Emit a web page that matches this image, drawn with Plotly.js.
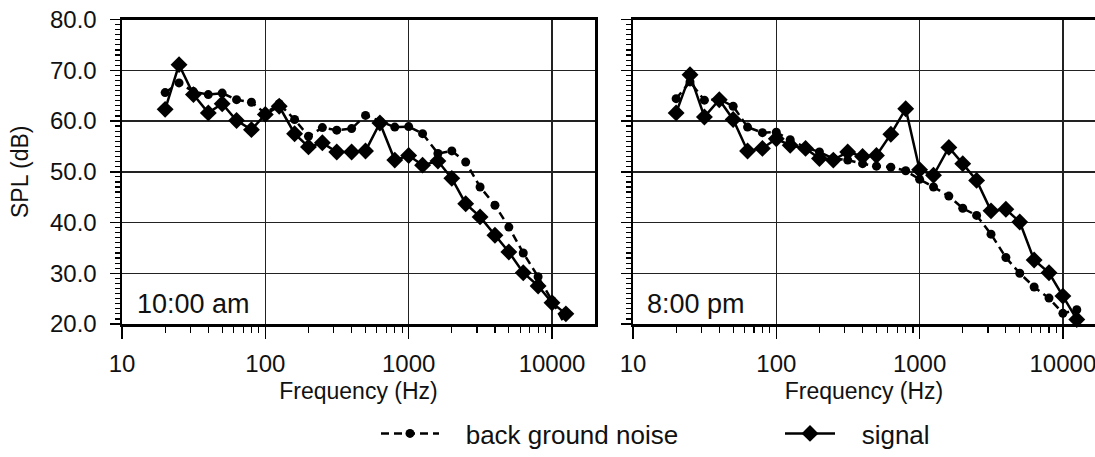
<!DOCTYPE html>
<html>
<head>
<meta charset="utf-8">
<script src="https://cdn.plot.ly/plotly-3.0.1.min.js"></script>
<style>html,body{margin:0;padding:0;background:#fff;}#chart{width:1095px;height:457px;}</style>
</head>
<body>
<div id="chart"></div>
<script>
// 1/3-octave band centre frequencies (Hz)
const freq = [20,25,31.5,40,50,63,80,100,125,160,200,250,315,400,500,630,800,1000,1250,1600,2000,2500,3150,4000,5000,6300,8000,10000,12500];

// 10:00 am panel (dB)
const noiseAm  = [65.6,67.5,65.8,65.2,65.5,64.2,63.7,61.5,63.4,60.3,57.0,58.7,58.2,58.5,61.1,59.9,58.8,58.9,57.5,53.6,54.1,51.9,47.0,43.4,39.1,34.0,29.3,24.6,19.5];
const signalAm = [62.3,71.1,65.2,61.6,63.4,60.1,58.3,61.3,62.9,57.5,54.9,55.7,53.9,53.9,54.1,59.6,52.3,53.2,51.3,52.1,48.7,43.7,41.1,37.5,34.2,30.1,27.5,24.2,22.0];

// 8:00 pm panel (dB)
const noisePm  = [64.4,67.7,64.1,64.3,62.9,58.8,57.7,57.8,56.3,54.8,53.9,52.6,52.3,51.6,51.1,50.9,50.2,48.5,47.0,45.2,42.8,41.4,37.7,33.1,30.0,27.3,25.1,22.1,22.8];
const signalPm = [61.6,69.1,60.8,64.2,60.3,54.1,54.6,56.5,55.2,54.6,52.6,52.3,53.9,53.0,53.2,57.4,62.4,50.4,49.3,54.8,51.6,48.3,42.3,42.6,40.1,32.6,30.1,25.5,20.9];

const seriesNames = ['back ground noise', 'signal'];
const panelLabels = ['10:00 am', '8:00 pm'];
const xTickVals = [10,100,1000,10000,20000];
const xTickText = ['10','100','1000','10000',''];
const xMinorVals = [20,30,40,50,60,70,80,90,200,300,400,500,600,700,800,900,2000,3000,4000,5000,6000,7000,8000,9000];

const FONT = 'Liberation Sans, Arial, sans-serif';
const GAP = '\u00a0\u00a0\u00a0';

function noiseTrace(y, xa, ya, show) {
  return {x: freq, y: y, xaxis: xa, yaxis: ya, name: GAP + seriesNames[0], showlegend: show, legend: 'legend',
    type: 'scatter', mode: 'lines+markers', cliponaxis: false,
    line: {color: '#000', width: 2.5, dash: '8px,5px'},
    marker: {symbol: 'circle', size: 9, color: '#000'}};
}
function signalTrace(y, xa, ya, show) {
  return {x: freq, y: y, xaxis: xa, yaxis: ya, name: GAP + seriesNames[1], showlegend: show, legend: 'legend2',
    type: 'scatter', mode: 'lines+markers', cliponaxis: false,
    line: {color: '#000', width: 2.5},
    marker: {symbol: 'diamond', size: 13, color: '#000'}};
}

const data = [
  noiseTrace(noiseAm, 'x', 'y', true),
  signalTrace(signalAm, 'x', 'y', true),
  noiseTrace(noisePm, 'x2', 'y2', false),
  signalTrace(signalPm, 'x2', 'y2', false)
];

function xAxis(domain, range, anchor, titleText) {
  return {type: 'log', domain: domain, range: range, anchor: anchor,
    tickmode: 'array', tickvals: xTickVals, ticktext: xTickText,
    ticks: 'outside', ticklen: 12, tickwidth: 1.5, tickcolor: '#000',
    ticklabelstandoff: 5, ticklabeloverflow: 'allow',
    minor: {tickmode: 'array', tickvals: xMinorVals, ticks: 'outside', ticklen: 6, tickwidth: 1.2, tickcolor: '#000', showgrid: false},
    showgrid: true, gridcolor: '#222', gridwidth: 1.5,
    showline: true, linecolor: '#000', linewidth: 2.5, mirror: true,
    zeroline: false,
    tickfont: {family: FONT, size: 24, color: '#111'},
    title: {text: titleText, font: {family: FONT, size: 23, color: '#111'}, standoff: 7},
    automargin: false, fixedrange: true};
}
function yAxis(domain, anchor, showLabels, mirror, titleText) {
  return {domain: domain, range: [20, 80], anchor: anchor,
    tickmode: 'linear', tick0: 20, dtick: 10, tickformat: '.1f',
    showticklabels: showLabels,
    ticks: 'outside', ticklen: 10, tickwidth: 1.5, tickcolor: '#000',
    ticklabelstandoff: 8,
    minor: {dtick: 1, ticks: 'outside', ticklen: 5, tickwidth: 1.2, tickcolor: '#000', showgrid: false},
    showgrid: true, gridcolor: '#222', gridwidth: 1.5,
    showline: true, linecolor: '#000', linewidth: 2.5, mirror: mirror,
    zeroline: false,
    tickfont: {family: FONT, size: 24, color: '#111'},
    title: {text: titleText, font: {family: FONT, size: 23, color: '#111'}, standoff: 15},
    automargin: false, fixedrange: true};
}

const W = 1095, H = 457;
const yDom = [1 - 324/H, 1 - 19.5/H];
const legendFont = {family: FONT, size: 26, color: '#111'};

const layout = {
  width: W, height: H,
  margin: {l: 0, r: 0, t: 0, b: 0, pad: 0},
  paper_bgcolor: '#fff', plot_bgcolor: '#fff',
  font: {family: FONT, color: '#111'},
  xaxis: xAxis([122/W, 595/W], [1, 4.3], 'y', 'Frequency (Hz)'),
  yaxis: yAxis(yDom, 'x', true, true, 'SPL (dB)'),
  xaxis2: xAxis([633/W, 1], [1, 1 + (W - 633)/143.3], 'y2', 'Frequency (Hz)'),
  yaxis2: yAxis(yDom, 'x2', false, false, ''),
  showlegend: true,
  legend: {orientation: 'h', x: 376/W, xanchor: 'left', y: 0, yanchor: 'bottom',
    font: legendFont, itemwidth: 58, bgcolor: 'rgba(0,0,0,0)'},
  legend2: {orientation: 'h', x: 780/W, xanchor: 'left', y: 0, yanchor: 'bottom',
    font: legendFont, itemwidth: 50, bgcolor: 'rgba(0,0,0,0)'},
  annotations: [
    {xref: 'paper', yref: 'paper', x: 193/W, y: 1 - 304/H, text: panelLabels[0], showarrow: false,
      xanchor: 'center', yanchor: 'middle', font: {family: FONT, size: 27, color: '#111'}},
    {xref: 'paper', yref: 'paper', x: 696/W, y: 1 - 304/H, text: panelLabels[1], showarrow: false,
      xanchor: 'center', yanchor: 'middle', font: {family: FONT, size: 27, color: '#111'}}
  ]
};

Plotly.newPlot('chart', data, layout, {displayModeBar: false, staticPlot: true});
</script>
</body>
</html>
